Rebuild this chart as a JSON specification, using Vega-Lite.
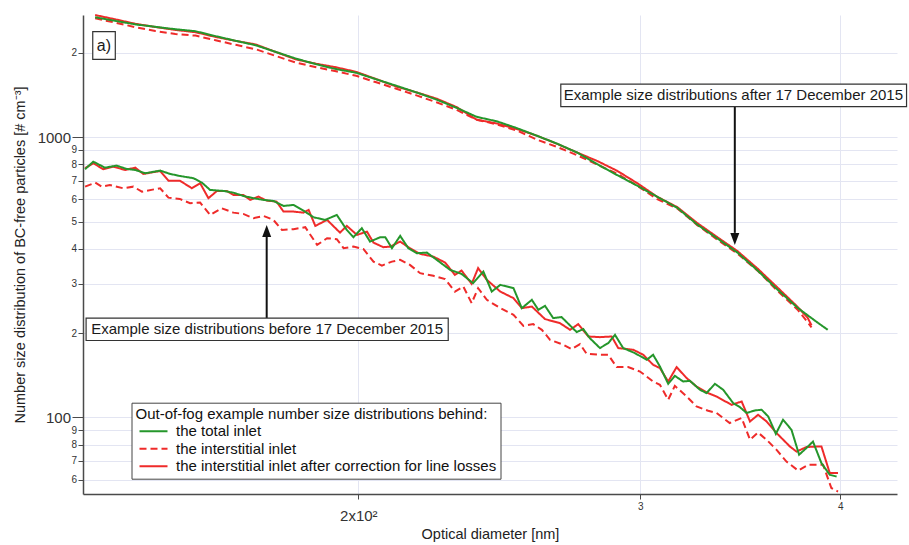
{
  "$schema": "https://vega.github.io/schema/vega-lite/v6.json",
  "width": 814,
  "height": 479,
  "autosize": {"type": "none"},
  "padding": {"left": 83, "top": 15, "right": 12, "bottom": 51},
  "background": "white",
  "config": {
    "font": "Liberation Sans",
    "view": {"stroke": null},
    "axis": {
      "domainColor": "#4a4a4a",
      "domainWidth": 1.5,
      "tickColor": "#4a4a4a",
      "labelColor": "#333333",
      "titleColor": "#222222",
      "titleFontWeight": "normal",
      "gridColor": "#e3e5f2",
      "gridWidth": 1
    },
    "legend": {
      "titleFontSize": 15,
      "titleFontWeight": "normal",
      "titleColor": "#111111",
      "titleLimit": 600,
      "labelFontSize": 15,
      "labelColor": "#111111",
      "labelLimit": 600,
      "symbolType": "M-2.8,0H2.8",
      "symbolSize": 100,
      "symbolStrokeWidth": 2,
      "padding": 4,
      "rowPadding": 1.5,
      "titlePadding": 2,
      "fillColor": "white",
      "strokeColor": "#444444",
      "symbolOffset": 10.5,
      "labelOffset": 15
    }
  },
  "encoding": {
    "x": {
      "field": "d",
      "type": "quantitative",
      "title": "Optical diameter [nm]",
      "scale": {"type": "log", "domain": [134.6, 434], "nice": false, "zero": false},
      "axis": {
        "values": [200, 300, 400],
        "labelExpr": "datum.value == 200 ? '2x10²' : datum.value == 300 ? '3' : '4'",
        "labelFontSize": {"condition": {"test": "datum.value == 200", "value": 15}, "value": 10},
        "labelPadding": {"condition": {"test": "datum.value == 200", "value": 9}, "value": 2},
        "tickSize": 5,
        "titleFontSize": 14.5,
        "titlePadding": 4,
        "labelFlush": false,
        "labelOverlap": false
      }
    },
    "y": {
      "field": "n",
      "type": "quantitative",
      "title": "Number size distribution of BC-free particles [# cm⁻³]",
      "scale": {"type": "log", "domain": [53.3, 2728], "nice": false},
      "axis": {
        "values": [60, 70, 80, 90, 100, 200, 300, 400, 500, 600, 700, 800, 900, 1000, 2000],
        "format": "d",
        "labelExpr": "datum.value == 100 || datum.value == 1000 ? datum.label : slice(datum.label, 0, 1)",
        "labelFontSize": {"condition": {"test": "datum.value == 100 || datum.value == 1000", "value": 15}, "value": 10},
        "tickSize": {"condition": {"test": "datum.value == 100 || datum.value == 1000", "value": 11}, "value": 5},
        "labelPadding": 1.5,
        "titleFontSize": 14.5,
        "titlePadding": 10,
        "labelOverlap": false
      }
    }
  },
  "layer": [
    {
      "data": {
        "values": [
          {"g": "a", "s": "i", "d": 136.97, "n": 2654}, {"g": "a", "s": "i", "d": 140.98, "n": 2562}, {"g": "a", "s": "i", "d": 145.11, "n": 2469}, {"g": "a", "s": "i", "d": 149.36, "n": 2391}, {"g": "a", "s": "i", "d": 153.73, "n": 2333}, {"g": "a", "s": "i", "d": 158.24, "n": 2303}, {"g": "a", "s": "i", "d": 162.88, "n": 2217}, {"g": "a", "s": "i", "d": 167.65, "n": 2135}, {"g": "a", "s": "i", "d": 172.56, "n": 2059}, {"g": "a", "s": "i", "d": 177.61, "n": 1948}, {"g": "a", "s": "i", "d": 182.88, "n": 1844}, {"g": "a", "s": "i", "d": 188.24, "n": 1777}, {"g": "a", "s": "i", "d": 193.71, "n": 1718}, {"g": "a", "s": "i", "d": 199.39, "n": 1655}, {"g": "a", "s": "i", "d": 205.23, "n": 1569}, {"g": "a", "s": "i", "d": 211.24, "n": 1488}, {"g": "a", "s": "i", "d": 217.43, "n": 1409}, {"g": "a", "s": "i", "d": 223.77, "n": 1332}, {"g": "a", "s": "i", "d": 230.32, "n": 1252}, {"g": "a", "s": "i", "d": 237.07, "n": 1154}, {"g": "a", "s": "i", "d": 244.06, "n": 1111}, {"g": "a", "s": "i", "d": 251.21, "n": 1056}, {"g": "a", "s": "i", "d": 258.53, "n": 980.2}, {"g": "a", "s": "i", "d": 266.1, "n": 923.2}, {"g": "a", "s": "i", "d": 273.9, "n": 862.4}, {"g": "a", "s": "i", "d": 281.89, "n": 799.1}, {"g": "a", "s": "i", "d": 290.15, "n": 741}, {"g": "a", "s": "i", "d": 298.67, "n": 670.9}, {"g": "a", "s": "i", "d": 307.42, "n": 601.1}, {"g": "a", "s": "i", "d": 316.42, "n": 556.4}, {"g": "a", "s": "i", "d": 325.65, "n": 485.5}, {"g": "a", "s": "i", "d": 335.19, "n": 430.7}, {"g": "a", "s": "i", "d": 345.03, "n": 383.8}, {"g": "a", "s": "i", "d": 355.14, "n": 333.9}, {"g": "a", "s": "i", "d": 365.54, "n": 282.6}, {"g": "a", "s": "i", "d": 376.2, "n": 242.2}, {"g": "a", "s": "i", "d": 381.67, "n": 218.4}, {"g": "a", "s": "i", "d": 383.8, "n": 209.5},
          {"g": "b", "s": "i", "d": 135.0, "n": 665.9}, {"g": "b", "s": "i", "d": 137.0, "n": 688.1}, {"g": "b", "s": "i", "d": 138.3, "n": 665.9}, {"g": "b", "s": "i", "d": 139.9, "n": 675.3}, {"g": "b", "s": "i", "d": 142.6, "n": 657.3}, {"g": "b", "s": "i", "d": 144.7, "n": 665.9}, {"g": "b", "s": "i", "d": 146.5, "n": 639.1}, {"g": "b", "s": "i", "d": 150.4, "n": 657.3}, {"g": "b", "s": "i", "d": 152.2, "n": 608.4}, {"g": "b", "s": "i", "d": 154.7, "n": 602.0}, {"g": "b", "s": "i", "d": 157.0, "n": 581.2}, {"g": "b", "s": "i", "d": 159.3, "n": 584.0}, {"g": "b", "s": "i", "d": 161.6, "n": 527.9}, {"g": "b", "s": "i", "d": 164.3, "n": 557.7}, {"g": "b", "s": "i", "d": 167.1, "n": 537.9}, {"g": "b", "s": "i", "d": 169.5, "n": 532.2}, {"g": "b", "s": "i", "d": 172.0, "n": 513.8}, {"g": "b", "s": "i", "d": 174.5, "n": 523.6}, {"g": "b", "s": "i", "d": 177.0, "n": 506.7}, {"g": "b", "s": "i", "d": 179.2, "n": 466.7}, {"g": "b", "s": "i", "d": 182.2, "n": 469.5}, {"g": "b", "s": "i", "d": 185.3, "n": 477.2}, {"g": "b", "s": "i", "d": 188.5, "n": 412.6}, {"g": "b", "s": "i", "d": 191.2, "n": 436.0}, {"g": "b", "s": "i", "d": 193.9, "n": 432.5}, {"g": "b", "s": "i", "d": 195.8, "n": 401.6}, {"g": "b", "s": "i", "d": 198.6, "n": 406.9}, {"g": "b", "s": "i", "d": 201.5, "n": 398.3}, {"g": "b", "s": "i", "d": 204.4, "n": 359.7}, {"g": "b", "s": "i", "d": 206.9, "n": 348.2}, {"g": "b", "s": "i", "d": 209.9, "n": 359.7}, {"g": "b", "s": "i", "d": 212.4, "n": 364.8}, {"g": "b", "s": "i", "d": 215.4, "n": 350.2}, {"g": "b", "s": "i", "d": 218.6, "n": 327.1}, {"g": "b", "s": "i", "d": 222.8, "n": 320.0}, {"g": "b", "s": "i", "d": 226.6, "n": 311.4}, {"g": "b", "s": "i", "d": 229.8, "n": 281.2}, {"g": "b", "s": "i", "d": 232.6, "n": 293.0}, {"g": "b", "s": "i", "d": 235.4, "n": 255.7}, {"g": "b", "s": "i", "d": 237.6, "n": 289.2}, {"g": "b", "s": "i", "d": 240.6, "n": 262.7}, {"g": "b", "s": "i", "d": 245.3, "n": 245.4}, {"g": "b", "s": "i", "d": 250.0, "n": 232.3}, {"g": "b", "s": "i", "d": 253.6, "n": 212.2}, {"g": "b", "s": "i", "d": 257.2, "n": 215.2}, {"g": "b", "s": "i", "d": 260.4, "n": 205.4}, {"g": "b", "s": "i", "d": 263.5, "n": 189.2}, {"g": "b", "s": "i", "d": 268.6, "n": 181.6}, {"g": "b", "s": "i", "d": 271.8, "n": 175.3}, {"g": "b", "s": "i", "d": 275.1, "n": 182.7}, {"g": "b", "s": "i", "d": 277.7, "n": 168.7}, {"g": "b", "s": "i", "d": 283.1, "n": 167.3}, {"g": "b", "s": "i", "d": 286.5, "n": 167.3}, {"g": "b", "s": "i", "d": 290.0, "n": 151.2}, {"g": "b", "s": "i", "d": 294.8, "n": 151.2}, {"g": "b", "s": "i", "d": 299.9, "n": 145.8}, {"g": "b", "s": "i", "d": 305.6, "n": 134.3}, {"g": "b", "s": "i", "d": 308.6, "n": 130.7}, {"g": "b", "s": "i", "d": 312.3, "n": 115.6}, {"g": "b", "s": "i", "d": 315.3, "n": 129.6}, {"g": "b", "s": "i", "d": 320.7, "n": 118.7}, {"g": "b", "s": "i", "d": 325.3, "n": 109.4}, {"g": "b", "s": "i", "d": 330.8, "n": 105.6}, {"g": "b", "s": "i", "d": 334.8, "n": 103.7}, {"g": "b", "s": "i", "d": 341.2, "n": 95.5}, {"g": "b", "s": "i", "d": 347.1, "n": 99.5}, {"g": "b", "s": "i", "d": 351.3, "n": 83.2}, {"g": "b", "s": "i", "d": 355.4, "n": 88.3}, {"g": "b", "s": "i", "d": 359.8, "n": 83.2}, {"g": "b", "s": "i", "d": 365.0, "n": 76.6}, {"g": "b", "s": "i", "d": 370.2, "n": 69.6}, {"g": "b", "s": "i", "d": 376.5, "n": 64.6}, {"g": "b", "s": "i", "d": 381.9, "n": 67.8}, {"g": "b", "s": "i", "d": 390.2, "n": 67.8}, {"g": "b", "s": "i", "d": 394.9, "n": 56.0}, {"g": "b", "s": "i", "d": 398.7, "n": 54.4},
          {"g": "a", "s": "c", "d": 136.97, "n": 2727}, {"g": "a", "s": "c", "d": 140.98, "n": 2633}, {"g": "a", "s": "c", "d": 145.11, "n": 2539}, {"g": "a", "s": "c", "d": 149.36, "n": 2471}, {"g": "a", "s": "c", "d": 153.73, "n": 2413}, {"g": "a", "s": "c", "d": 158.24, "n": 2368}, {"g": "a", "s": "c", "d": 162.88, "n": 2278}, {"g": "a", "s": "c", "d": 167.65, "n": 2205}, {"g": "a", "s": "c", "d": 172.56, "n": 2142}, {"g": "a", "s": "c", "d": 177.61, "n": 2013}, {"g": "a", "s": "c", "d": 182.88, "n": 1893}, {"g": "a", "s": "c", "d": 188.24, "n": 1828}, {"g": "a", "s": "c", "d": 193.71, "n": 1775}, {"g": "a", "s": "c", "d": 199.39, "n": 1710}, {"g": "a", "s": "c", "d": 205.23, "n": 1611}, {"g": "a", "s": "c", "d": 211.24, "n": 1515}, {"g": "a", "s": "c", "d": 217.43, "n": 1445}, {"g": "a", "s": "c", "d": 223.77, "n": 1373}, {"g": "a", "s": "c", "d": 230.32, "n": 1281}, {"g": "a", "s": "c", "d": 237.07, "n": 1155}, {"g": "a", "s": "c", "d": 244.06, "n": 1119}, {"g": "a", "s": "c", "d": 251.21, "n": 1069}, {"g": "a", "s": "c", "d": 258.53, "n": 1012}, {"g": "a", "s": "c", "d": 266.1, "n": 947.0}, {"g": "a", "s": "c", "d": 273.9, "n": 881.7}, {"g": "a", "s": "c", "d": 281.89, "n": 823.0}, {"g": "a", "s": "c", "d": 290.15, "n": 758.8}, {"g": "a", "s": "c", "d": 298.67, "n": 685.4}, {"g": "a", "s": "c", "d": 307.42, "n": 612.5}, {"g": "a", "s": "c", "d": 316.42, "n": 562.7}, {"g": "a", "s": "c", "d": 325.65, "n": 493.6}, {"g": "a", "s": "c", "d": 335.19, "n": 439.6}, {"g": "a", "s": "c", "d": 345.03, "n": 392.1}, {"g": "a", "s": "c", "d": 355.14, "n": 339.7}, {"g": "a", "s": "c", "d": 365.54, "n": 290.4}, {"g": "a", "s": "c", "d": 376.2, "n": 248.0}, {"g": "a", "s": "c", "d": 381.67, "n": 226.7}, {"g": "a", "s": "c", "d": 383.8, "n": 213.1},
          {"g": "b", "s": "c", "d": 135.0, "n": 774.6}, {"g": "b", "s": "c", "d": 136.6, "n": 807.0}, {"g": "b", "s": "c", "d": 138.6, "n": 768.3}, {"g": "b", "s": "c", "d": 140.6, "n": 784.7}, {"g": "b", "s": "c", "d": 143.0, "n": 763.8}, {"g": "b", "s": "c", "d": 145.1, "n": 778.3}, {"g": "b", "s": "c", "d": 146.8, "n": 739.1}, {"g": "b", "s": "c", "d": 150.4, "n": 757.5}, {"g": "b", "s": "c", "d": 152.2, "n": 699.6}, {"g": "b", "s": "c", "d": 154.7, "n": 699.6}, {"g": "b", "s": "c", "d": 157.4, "n": 657.3}, {"g": "b", "s": "c", "d": 159.3, "n": 684.8}, {"g": "b", "s": "c", "d": 161.2, "n": 605.5}, {"g": "b", "s": "c", "d": 163.2, "n": 642.8}, {"g": "b", "s": "c", "d": 165.5, "n": 642.8}, {"g": "b", "s": "c", "d": 167.1, "n": 622.1}, {"g": "b", "s": "c", "d": 169.5, "n": 622.1}, {"g": "b", "s": "c", "d": 171.2, "n": 597.1}, {"g": "b", "s": "c", "d": 173.2, "n": 613.5}, {"g": "b", "s": "c", "d": 175.3, "n": 593.7}, {"g": "b", "s": "c", "d": 177.8, "n": 588.8}, {"g": "b", "s": "c", "d": 179.6, "n": 542.4}, {"g": "b", "s": "c", "d": 182.2, "n": 542.4}, {"g": "b", "s": "c", "d": 184.8, "n": 537.9}, {"g": "b", "s": "c", "d": 186.2, "n": 550.0}, {"g": "b", "s": "c", "d": 188.0, "n": 482.3}, {"g": "b", "s": "c", "d": 191.2, "n": 506.7}, {"g": "b", "s": "c", "d": 194.8, "n": 456.4}, {"g": "b", "s": "c", "d": 196.7, "n": 482.3}, {"g": "b", "s": "c", "d": 199.6, "n": 448.0}, {"g": "b", "s": "c", "d": 202.5, "n": 460.2}, {"g": "b", "s": "c", "d": 204.4, "n": 420.4}, {"g": "b", "s": "c", "d": 207.3, "n": 404.9}, {"g": "b", "s": "c", "d": 209.4, "n": 406.9}, {"g": "b", "s": "c", "d": 212.4, "n": 423.9}, {"g": "b", "s": "c", "d": 215.4, "n": 401.6}, {"g": "b", "s": "c", "d": 218.6, "n": 383.2}, {"g": "b", "s": "c", "d": 222.8, "n": 374.8}, {"g": "b", "s": "c", "d": 226.6, "n": 356.8}, {"g": "b", "s": "c", "d": 229.8, "n": 322.6}, {"g": "b", "s": "c", "d": 232.0, "n": 334.2}, {"g": "b", "s": "c", "d": 235.4, "n": 299.6}, {"g": "b", "s": "c", "d": 237.6, "n": 340.9}, {"g": "b", "s": "c", "d": 240.6, "n": 309.6}, {"g": "b", "s": "c", "d": 245.3, "n": 281.2}, {"g": "b", "s": "c", "d": 250.0, "n": 266.4}, {"g": "b", "s": "c", "d": 253.0, "n": 245.4}, {"g": "b", "s": "c", "d": 256.7, "n": 248.6}, {"g": "b", "s": "c", "d": 261.6, "n": 224.3}, {"g": "b", "s": "c", "d": 267.3, "n": 216.9}, {"g": "b", "s": "c", "d": 271.2, "n": 205.4}, {"g": "b", "s": "c", "d": 274.4, "n": 215.2}, {"g": "b", "s": "c", "d": 278.4, "n": 194.4}, {"g": "b", "s": "c", "d": 283.1, "n": 193.4}, {"g": "b", "s": "c", "d": 287.9, "n": 194.4}, {"g": "b", "s": "c", "d": 290.65, "n": 176.8}, {"g": "b", "s": "c", "d": 297.0, "n": 174.3}, {"g": "b", "s": "c", "d": 301.3, "n": 167.3}, {"g": "b", "s": "c", "d": 305.6, "n": 154.1}, {"g": "b", "s": "c", "d": 308.6, "n": 150.0}, {"g": "b", "s": "c", "d": 312.3, "n": 134.3}, {"g": "b", "s": "c", "d": 316.1, "n": 151.2}, {"g": "b", "s": "c", "d": 320.7, "n": 138.1}, {"g": "b", "s": "c", "d": 325.3, "n": 128.9}, {"g": "b", "s": "c", "d": 330.8, "n": 122.1}, {"g": "b", "s": "c", "d": 334.8, "n": 118.7}, {"g": "b", "s": "c", "d": 342.1, "n": 110.9}, {"g": "b", "s": "c", "d": 347.1, "n": 114.0}, {"g": "b", "s": "c", "d": 351.3, "n": 96.7}, {"g": "b", "s": "c", "d": 355.4, "n": 102.2}, {"g": "b", "s": "c", "d": 359.8, "n": 96.7}, {"g": "b", "s": "c", "d": 365.0, "n": 87.9}, {"g": "b", "s": "c", "d": 372.0, "n": 78.8}, {"g": "b", "s": "c", "d": 375.6, "n": 75.5}, {"g": "b", "s": "c", "d": 381.0, "n": 78.4}, {"g": "b", "s": "c", "d": 389.3, "n": 78.8}, {"g": "b", "s": "c", "d": 394.0, "n": 63.3}, {"g": "b", "s": "c", "d": 398.7, "n": 63.3},
          {"g": "a", "s": "t", "d": 136.97, "n": 2678}, {"g": "a", "s": "t", "d": 140.98, "n": 2600}, {"g": "a", "s": "t", "d": 145.11, "n": 2526}, {"g": "a", "s": "t", "d": 149.36, "n": 2475}, {"g": "a", "s": "t", "d": 153.73, "n": 2427}, {"g": "a", "s": "t", "d": 158.24, "n": 2387}, {"g": "a", "s": "t", "d": 162.88, "n": 2293}, {"g": "a", "s": "t", "d": 167.65, "n": 2207}, {"g": "a", "s": "t", "d": 172.56, "n": 2128}, {"g": "a", "s": "t", "d": 177.61, "n": 2014}, {"g": "a", "s": "t", "d": 182.88, "n": 1906}, {"g": "a", "s": "t", "d": 188.24, "n": 1820}, {"g": "a", "s": "t", "d": 193.71, "n": 1749}, {"g": "a", "s": "t", "d": 199.39, "n": 1697}, {"g": "a", "s": "t", "d": 205.23, "n": 1608}, {"g": "a", "s": "t", "d": 211.24, "n": 1525}, {"g": "a", "s": "t", "d": 217.43, "n": 1444}, {"g": "a", "s": "t", "d": 223.77, "n": 1362}, {"g": "a", "s": "t", "d": 230.32, "n": 1273}, {"g": "a", "s": "t", "d": 237.07, "n": 1182}, {"g": "a", "s": "t", "d": 244.06, "n": 1139}, {"g": "a", "s": "t", "d": 251.21, "n": 1077}, {"g": "a", "s": "t", "d": 258.53, "n": 1012}, {"g": "a", "s": "t", "d": 266.1, "n": 948.7}, {"g": "a", "s": "t", "d": 273.9, "n": 881.7}, {"g": "a", "s": "t", "d": 281.89, "n": 801.7}, {"g": "a", "s": "t", "d": 290.15, "n": 732.5}, {"g": "a", "s": "t", "d": 298.67, "n": 671.4}, {"g": "a", "s": "t", "d": 307.42, "n": 612.5}, {"g": "a", "s": "t", "d": 316.42, "n": 559.5}, {"g": "a", "s": "t", "d": 325.65, "n": 487.5}, {"g": "a", "s": "t", "d": 335.19, "n": 435.0}, {"g": "a", "s": "t", "d": 345.03, "n": 387.3}, {"g": "a", "s": "t", "d": 355.14, "n": 334.5}, {"g": "a", "s": "t", "d": 365.54, "n": 285.6}, {"g": "a", "s": "t", "d": 376.2, "n": 246.0}, {"g": "a", "s": "t", "d": 387.22, "n": 217.8}, {"g": "a", "s": "t", "d": 392.85, "n": 205.4},
          {"g": "b", "s": "t", "d": 135.0, "n": 768.3}, {"g": "b", "s": "t", "d": 136.6, "n": 817.6}, {"g": "b", "s": "t", "d": 138.9, "n": 778.3}, {"g": "b", "s": "t", "d": 141.3, "n": 791.3}, {"g": "b", "s": "t", "d": 143.3, "n": 770.1}, {"g": "b", "s": "t", "d": 145.1, "n": 763.8}, {"g": "b", "s": "t", "d": 147.2, "n": 743.4}, {"g": "b", "s": "t", "d": 150.4, "n": 759.4}, {"g": "b", "s": "t", "d": 152.6, "n": 739.1}, {"g": "b", "s": "t", "d": 154.7, "n": 727.1}, {"g": "b", "s": "t", "d": 157.8, "n": 713.5}, {"g": "b", "s": "t", "d": 159.7, "n": 688.1}, {"g": "b", "s": "t", "d": 161.6, "n": 648.1}, {"g": "b", "s": "t", "d": 164.7, "n": 642.8}, {"g": "b", "s": "t", "d": 167.1, "n": 633.8}, {"g": "b", "s": "t", "d": 169.5, "n": 617.0}, {"g": "b", "s": "t", "d": 172.0, "n": 605.5}, {"g": "b", "s": "t", "d": 174.5, "n": 597.1}, {"g": "b", "s": "t", "d": 177.0, "n": 592.2}, {"g": "b", "s": "t", "d": 179.6, "n": 568.3}, {"g": "b", "s": "t", "d": 182.2, "n": 573.0}, {"g": "b", "s": "t", "d": 184.8, "n": 546.9}, {"g": "b", "s": "t", "d": 187.5, "n": 518.0}, {"g": "b", "s": "t", "d": 190.7, "n": 506.7}, {"g": "b", "s": "t", "d": 193.9, "n": 527.9}, {"g": "b", "s": "t", "d": 196.7, "n": 466.7}, {"g": "b", "s": "t", "d": 198.6, "n": 439.6}, {"g": "b", "s": "t", "d": 201.0, "n": 473.3}, {"g": "b", "s": "t", "d": 203.4, "n": 423.9}, {"g": "b", "s": "t", "d": 206.4, "n": 439.6}, {"g": "b", "s": "t", "d": 207.9, "n": 439.6}, {"g": "b", "s": "t", "d": 209.9, "n": 401.6}, {"g": "b", "s": "t", "d": 212.4, "n": 444.3}, {"g": "b", "s": "t", "d": 214.9, "n": 401.6}, {"g": "b", "s": "t", "d": 217.5, "n": 385.4}, {"g": "b", "s": "t", "d": 220.7, "n": 387.3}, {"g": "b", "s": "t", "d": 223.9, "n": 364.8}, {"g": "b", "s": "t", "d": 228.2, "n": 336.1}, {"g": "b", "s": "t", "d": 232.0, "n": 325.2}, {"g": "b", "s": "t", "d": 235.9, "n": 301.3}, {"g": "b", "s": "t", "d": 239.4, "n": 331.4}, {"g": "b", "s": "t", "d": 242.3, "n": 281.2}, {"g": "b", "s": "t", "d": 245.3, "n": 297.1}, {"g": "b", "s": "t", "d": 250.0, "n": 289.2}, {"g": "b", "s": "t", "d": 253.0, "n": 245.4}, {"g": "b", "s": "t", "d": 256.7, "n": 262.7}, {"g": "b", "s": "t", "d": 259.1, "n": 242.0}, {"g": "b", "s": "t", "d": 261.6, "n": 250.0}, {"g": "b", "s": "t", "d": 264.7, "n": 226.1}, {"g": "b", "s": "t", "d": 267.9, "n": 228.0}, {"g": "b", "s": "t", "d": 273.8, "n": 201.6}, {"g": "b", "s": "t", "d": 276.4, "n": 206.6}, {"g": "b", "s": "t", "d": 279.0, "n": 191.8}, {"g": "b", "s": "t", "d": 283.1, "n": 176.8}, {"g": "b", "s": "t", "d": 286.5, "n": 184.1}, {"g": "b", "s": "t", "d": 289.3, "n": 197.1}, {"g": "b", "s": "t", "d": 292.7, "n": 176.8}, {"g": "b", "s": "t", "d": 297.7, "n": 169.6}, {"g": "b", "s": "t", "d": 302.8, "n": 160.5}, {"g": "b", "s": "t", "d": 305.6, "n": 167.3}, {"g": "b", "s": "t", "d": 308.6, "n": 152.0}, {"g": "b", "s": "t", "d": 312.3, "n": 131.8}, {"g": "b", "s": "t", "d": 315.3, "n": 140.7}, {"g": "b", "s": "t", "d": 319.1, "n": 134.3}, {"g": "b", "s": "t", "d": 322.2, "n": 135.1}, {"g": "b", "s": "t", "d": 326.9, "n": 125.5}, {"g": "b", "s": "t", "d": 330.0, "n": 122.1}, {"g": "b", "s": "t", "d": 334.0, "n": 131.8}, {"g": "b", "s": "t", "d": 338.0, "n": 125.5}, {"g": "b", "s": "t", "d": 342.9, "n": 112.5}, {"g": "b", "s": "t", "d": 346.2, "n": 108.8}, {"g": "b", "s": "t", "d": 349.6, "n": 103.7}, {"g": "b", "s": "t", "d": 353.8, "n": 105.9}, {"g": "b", "s": "t", "d": 357.2, "n": 106.5}, {"g": "b", "s": "t", "d": 360.6, "n": 100.8}, {"g": "b", "s": "t", "d": 364.6, "n": 87.4}, {"g": "b", "s": "t", "d": 368.4, "n": 98.1}, {"g": "b", "s": "t", "d": 372.9, "n": 90.3}, {"g": "b", "s": "t", "d": 377.0, "n": 73.6}, {"g": "b", "s": "t", "d": 381.0, "n": 77.8}, {"g": "b", "s": "t", "d": 384.6, "n": 82.0}, {"g": "b", "s": "t", "d": 389.3, "n": 68.7}, {"g": "b", "s": "t", "d": 394.0, "n": 62.4}, {"g": "b", "s": "t", "d": 397.9, "n": 61.5}
        ]
      },
      "mark": {"type": "line", "strokeWidth": 2},
      "encoding": {
        "color": {
          "field": "s",
          "type": "nominal",
          "scale": {"domain": ["t", "i", "c"], "range": ["#25962b", "#ef2b2a", "#ef2b2a"]},
          "legend": {
            "title": "Out-of-fog example number size distributions behind:",
            "orient": "none",
            "legendX": 48.5,
            "legendY": 387.7,
            "labelExpr": "datum.label == 't' ? 'the total inlet' : datum.label == 'i' ? 'the interstitial inlet' : 'the interstitial inlet after correction for line losses'"
          }
        },
        "strokeDash": {
          "field": "s",
          "type": "nominal",
          "scale": {"domain": ["t", "i", "c"], "range": [[1, 0], [7, 4], [1, 0]]},
          "legend": {
            "title": "Out-of-fog example number size distributions behind:",
            "orient": "none",
            "legendX": 48.5,
            "legendY": 387.7,
            "labelExpr": "datum.label == 't' ? 'the total inlet' : datum.label == 'i' ? 'the interstitial inlet' : 'the interstitial inlet after correction for line losses'"
          }
        },
        "detail": {"field": "g"}
      }
    },
    {
      "data": {
        "values": [
          {"d": 343.7, "n": 1284, "n2": 455.4},
          {"d": 175.3, "n": 226.1, "n2": 440.7}
        ]
      },
      "mark": {"type": "rule", "strokeWidth": 2, "color": "#111111"},
      "encoding": {"y2": {"field": "n2"}}
    },
    {
      "data": {
        "values": [
          {"d": 343.7, "n": 433.5, "dir": "down"},
          {"d": 175.3, "n": 462.9, "dir": "up"}
        ]
      },
      "mark": {"type": "point", "filled": true, "size": 144, "opacity": 1, "color": "#111111"},
      "encoding": {
        "shape": {
          "field": "dir",
          "type": "nominal",
          "scale": {"domain": ["up", "down"], "range": ["M0,-1L0.75,1L-0.75,1Z", "M-0.75,-1L0.75,-1L0,1Z"]},
          "legend": null
        }
      }
    },
    {
      "data": {
        "values": [
          {"d": 136.5, "d2": 141.0, "n": 2378, "n2": 1895},
          {"d": 267.6, "d2": 440.0, "n": 1547, "n2": 1284},
          {"d": 135.2, "d2": 227.6, "n": 226.1, "n2": 188.1}
        ]
      },
      "mark": {"type": "rect", "fill": "white", "stroke": "#333333", "strokeWidth": 1.2},
      "encoding": {"x2": {"field": "d2"}, "y2": {"field": "n2"}}
    },
    {
      "data": {
        "values": [
          {"d": 138.7, "n": 2122, "label": "a)"},
          {"d": 343.0, "n": 1410.5, "label": "Example size distributions after 17 December 2015"},
          {"d": 175.4, "n": 206.3, "label": "Example size distributions before 17 December 2015"}
        ]
      },
      "mark": {"type": "text", "align": "center", "baseline": "middle", "color": "#1a1a1a"},
      "encoding": {
        "text": {"field": "label"},
        "size": {"condition": {"test": "datum.label == 'a)'", "value": 16}, "value": 15}
      }
    }
  ]
}
